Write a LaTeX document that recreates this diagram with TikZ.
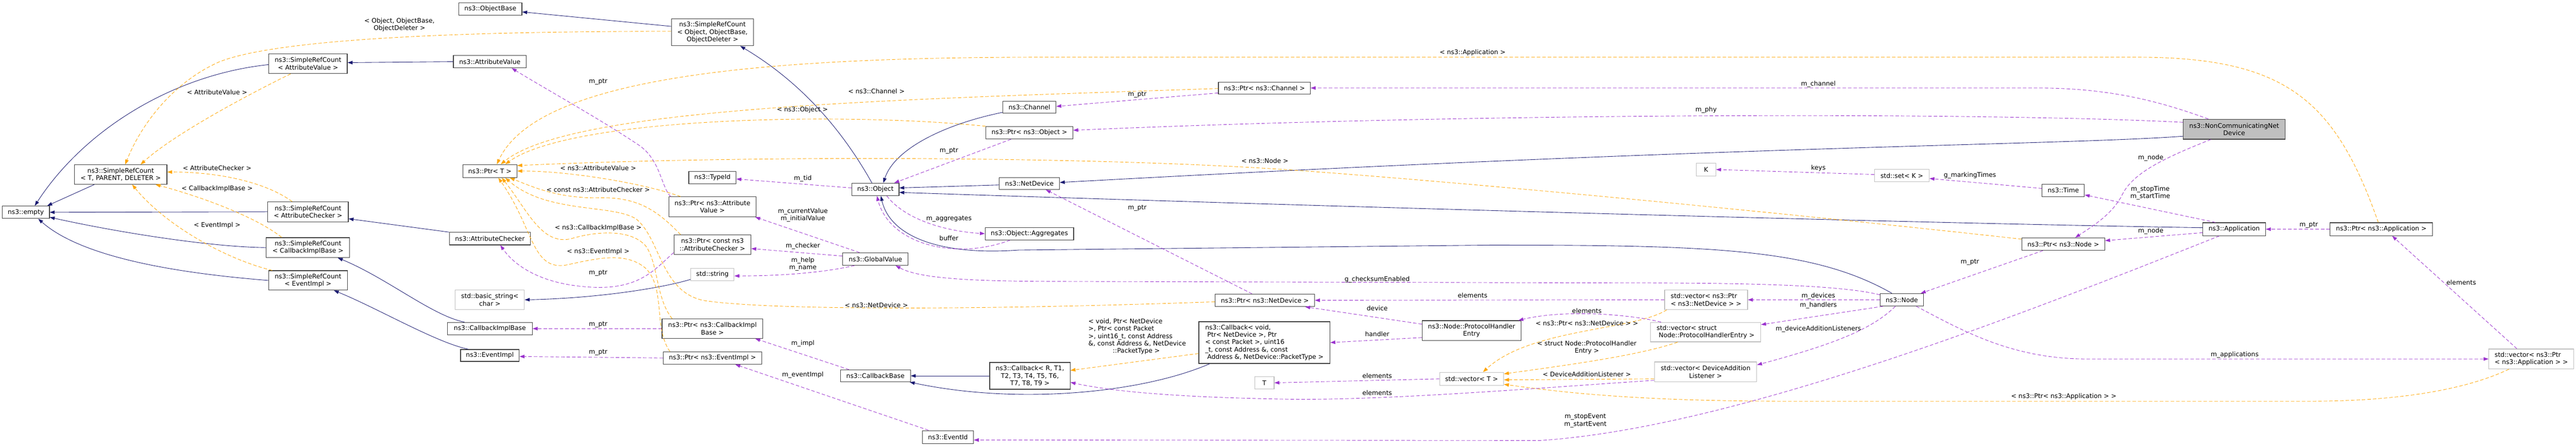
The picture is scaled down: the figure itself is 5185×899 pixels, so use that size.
\documentclass[tikz,border=0pt]{standalone}
\usepackage{fontspec}
\setmainfont{DejaVu Sans}
\usetikzlibrary{arrows.meta,calc}
\definecolor{inhblue}{RGB}{25,25,112}
\definecolor{usepurple}{RGB}{154,50,205}
\definecolor{tplorange}{RGB}{255,165,0}
\definecolor{boxgray}{RGB}{191,191,191}
\definecolor{boxline}{RGB}{64,64,64}
\newcommand{\dgfont}{\fontsize{12.8pt}{14.8pt}\selectfont}

\begin{document}
\begin{tikzpicture}[x=1pt,y=-1pt,
    clsbox/.style={draw=boxline,line width=1.2pt,fill=white,inner sep=0pt,align=center,font=\dgfont},
    extbox/.style={clsbox,draw=boxgray},
    mainbox/.style={clsbox,fill=boxgray},
    lbl/.style={inner sep=0pt,align=center,font=\dgfont},
    inhedge/.style={draw=inhblue,line width=0.9pt,-{Triangle[length=10pt,width=7pt]}},
    usedge/.style={draw=usepurple,line width=0.9pt,dash pattern=on 7pt off 4pt,-{Triangle[length=10pt,width=7pt]}},
    tpledge/.style={usedge,draw=tplorange}]
  \useasboundingbox (0,0) rectangle (5185,899);

  % classes
  \node[clsbox,minimum width=95pt,minimum height=25pt] (empty) at (52,427) {ns3::empty};
  \node[clsbox,minimum width=186pt,minimum height=39pt] (srcT) at (243,351) {ns3::SimpleRefCount\\< T, PARENT, DELETER >};
  \node[clsbox,minimum width=158pt,minimum height=40pt] (srcAV) at (620,128) {ns3::SimpleRefCount\\< AttributeValue >};
  \node[clsbox,minimum width=162pt,minimum height=40pt] (srcAC) at (620,426) {ns3::SimpleRefCount\\< AttributeChecker >};
  \node[clsbox,minimum width=168pt,minimum height=40pt] (srcCB) at (620,498) {ns3::SimpleRefCount\\< CallbackImplBase >};
  \node[clsbox,minimum width=159pt,minimum height=39pt] (srcEI) at (620,564) {ns3::SimpleRefCount\\< EventImpl >};
  \node[clsbox,minimum width=127pt,minimum height=25pt] (objBase) at (987,18) {ns3::ObjectBase};
  \node[clsbox,minimum width=147pt,minimum height=25pt] (attrVal) at (986,124) {ns3::AttributeValue};
  \node[clsbox,minimum width=109pt,minimum height=26pt] (ptrT) at (986,344) {ns3::Ptr< T >};
  \node[clsbox,minimum width=163pt,minimum height=25pt] (attrChk) at (986,480) {ns3::AttributeChecker};
  \node[extbox,minimum width=139pt,minimum height=39pt] (bstring) at (986,603) {std::basic\_string<\\char >};
  \node[clsbox,minimum width=171pt,minimum height=25pt] (cbImpl) at (986,661) {ns3::CallbackImplBase};
  \node[clsbox,minimum width=118pt,minimum height=24pt] (evImpl) at (986,715) {ns3::EventImpl};
  \node[clsbox,minimum width=165pt,minimum height=54pt] (srcObj) at (1434,65) {ns3::SimpleRefCount\\< Object, ObjectBase,\\ObjectDeleter >};
  \node[clsbox,minimum width=95pt,minimum height=25pt] (typeId) at (1434,357) {ns3::TypeId};
  \node[clsbox,minimum width=175pt,minimum height=40pt] (ptrAV) at (1434,416) {ns3::Ptr< ns3::Attribute\\Value >};
  \node[clsbox,minimum width=155pt,minimum height=39pt] (ptrAC) at (1434,492) {ns3::Ptr< const ns3\\::AttributeChecker >};
  \node[extbox,minimum width=87pt,minimum height=25pt] (string) at (1434,552) {std::string};
  \node[clsbox,minimum width=203pt,minimum height=39pt] (ptrCB) at (1434,661) {ns3::Ptr< ns3::CallbackImpl\\Base >};
  \node[clsbox,minimum width=198pt,minimum height=25pt] (ptrEI) at (1434,720) {ns3::Ptr< ns3::EventImpl >};
  \node[clsbox,minimum width=95pt,minimum height=25pt] (object) at (1762,381) {ns3::Object};
  \node[clsbox,minimum width=132pt,minimum height=25pt] (globalVal) at (1762,521) {ns3::GlobalValue};
  \node[clsbox,minimum width=141pt,minimum height=24pt] (cbBase) at (1762,756) {ns3::CallbackBase};
  \node[clsbox,minimum width=103pt,minimum height=26pt] (eventId) at (1908,879) {ns3::EventId};
  \node[clsbox,minimum width=185pt,minimum height=24pt] (ptrCh) at (2545,177) {ns3::Ptr< ns3::Channel >};
  \node[clsbox,minimum width=107pt,minimum height=24pt] (channel) at (2072,216) {ns3::Channel};
  \node[clsbox,minimum width=175pt,minimum height=25pt] (ptrObj) at (2072,267) {ns3::Ptr< ns3::Object >};
  \node[clsbox,minimum width=121pt,minimum height=24pt] (netDev) at (2072,369) {ns3::NetDevice};
  \node[clsbox,minimum width=178pt,minimum height=25pt] (aggr) at (2072,470) {ns3::Object::Aggregates};
  \node[clsbox,minimum width=200pt,minimum height=25pt] (ptrND) at (2546,604) {ns3::Ptr< ns3::NetDevice >};
  \node[clsbox,minimum width=162pt,minimum height=54pt] (cbT) at (2073,756) {ns3::Callback< R, T1,\\ T2, T3, T4, T5, T6,\\ T7, T8, T9 >};
  \node[clsbox,align=left,minimum width=264pt,minimum height=84pt] (cbVoid) at (2545,689) {ns3::Callback< void,\\\ Ptr< NetDevice >, Ptr\\< const Packet >, uint16\\\_t, const Address \&, const\\\ Address \&, NetDevice::PacketType >};
  \node[extbox,minimum width=39pt,minimum height=25pt] (tT) at (2545,770) {T};
  \node[clsbox,minimum width=199pt,minimum height=40pt] (phe) at (2962,665) {ns3::Node::ProtocolHandler\\Entry};
  \node[extbox,minimum width=129pt,minimum height=26pt] (vecT) at (2962,762) {std::vector< T >};
  \node[extbox,minimum width=39pt,minimum height=26pt] (kK) at (3434,341) {K};
  \node[extbox,minimum width=110pt,minimum height=25pt] (setK) at (3828,353) {std::set< K >};
  \node[extbox,align=left,minimum width=167pt,minimum height=39pt] (vecND) at (3434,603) {std::vector< ns3::Ptr\\< ns3::NetDevice > >};
  \node[clsbox,minimum width=87pt,minimum height=25pt] (node) at (3828,603) {ns3::Node};
  \node[extbox,align=left,minimum width=222pt,minimum height=39pt] (vecPHE) at (3433,668) {std::vector< struct\\\ Node::ProtocolHandlerEntry >};
  \node[extbox,minimum width=206pt,minimum height=40pt] (vecDAL) at (3433,748) {std::vector< DeviceAddition\\Listener >};
  \node[mainbox,minimum width=205pt,minimum height=40pt] (ncnd) at (4497,260) {ns3::NonCommunicatingNet\\Device};
  \node[clsbox,minimum width=85pt,minimum height=25pt] (time) at (4153,383) {ns3::Time};
  \node[clsbox,minimum width=126pt,minimum height=26pt] (app) at (4497,461) {ns3::Application};
  \node[clsbox,minimum width=167pt,minimum height=25pt] (ptrNode) at (4153,491) {ns3::Ptr< ns3::Node >};
  \node[clsbox,minimum width=206pt,minimum height=26pt] (ptrApp) at (4793,461) {ns3::Ptr< ns3::Application >};
  \node[extbox,align=left,minimum width=171pt,minimum height=40pt] (vecApp) at (5095,722) {std::vector< ns3::Ptr\\< ns3::Application > >};

  % inheritance
  \draw[inhedge] ($(srcAV.west)+(0,2)$) .. controls (350,150) and (170,260) .. ($(empty.north)+(18,0)$);
  \draw[inhedge] ($(srcT.south)+(-53,0)$) -- ($(empty.north east)+(-5,0)$);
  \draw[inhedge] (srcAC.west) -- (empty.east);
  \draw[inhedge] (srcCB.west) .. controls (430,497) and (250,470) .. ($(empty.east)+(0,10)$);
  \draw[inhedge] (srcEI.west) .. controls (300,545) and (150,505) .. ($(empty.south)+(25,0)$);
  \draw[inhedge] (attrVal.west) -- ($(srcAV.east)+(0,-2)$);
  \draw[inhedge] (attrChk.north west) -- ($(srcAC.east)+(0,14)$);
  \draw[inhedge] ($(cbImpl.north)+(-51,0)$) .. controls (870,635) and (780,560) .. ($(srcCB.south)+(60,0)$);
  \draw[inhedge] ($(evImpl.north)+(-43,0)$) .. controls (880,690) and (760,620) .. ($(srcEI.south)+(52,0)$);
  \draw[inhedge] ($(srcObj.west)+(0,-12)$) -- ($(objBase.east)+(0,6)$);
  \draw[inhedge] ($(object.north)+(-7,0)$) .. controls (1700,270) and (1620,170) .. ($(srcObj.south)+(56,0)$);
  \draw[inhedge] ($(channel.west)+(0,10)$) .. controls (1900,250) and (1800,300) .. ($(object.north)+(16,0)$);
  \draw[inhedge] ($(netDev.west)+(0,3)$) -- ($(object.east)+(0,-3)$);
  \draw[inhedge] ($(ncnd.west)+(0,14)$) .. controls (4150,292) and (3500,292) .. ($(netDev.east)+(0,-2)$);
  \draw[inhedge] ($(app.west)+(0,-3)$) .. controls (3800,448) and (2500,410) .. ($(object.east)+(0,6)$);
  \draw[inhedge] ($(node.north)+(-20,0)$) .. controls (3650,500) and (3450,493) .. (3000,493) -- (2050,503) .. controls (1880,515) and (1790,470) .. ($(object.south)+(11,0)$);
  \draw[inhedge] ($(string.west)+(0,10)$) .. controls (1330,580) and (1200,600) .. (bstring.east);
  \draw[inhedge] (cbT.west) -- (cbBase.east);
  \draw[inhedge] ($(cbVoid.south)+(-110,0)$) .. controls (2300,790) and (2050,815) .. ($(cbBase.south east)+(-2,0)$);

  % template instances
  \draw[tpledge] ($(srcAV.south)+(-35,0)$) .. controls (500,190) and (350,270) .. ($(srcT.north)+(40,0)$);
  \draw[tpledge] ($(srcObj.west)+(0,-2)$) .. controls (900,63) and (550,80) .. (440,125) .. controls (340,170) and (280,260) .. ($(srcT.north)+(9,0)$);
  \draw[tpledge] ($(srcAC.north)+(-32,0)$) .. controls (540,370) and (450,346) .. ($(srcT.east)+(0,-5)$);
  \draw[tpledge] ($(srcCB.north)+(-53,0)$) .. controls (520,440) and (420,400) .. ($(srcT.south)+(70,0)$);
  \draw[tpledge] ($(srcEI.north)+(-72,0)$) .. controls (450,520) and (330,450) .. ($(srcT.south)+(23,0)$);
  \draw[tpledge] ($(ptrApp.north)+(-6,0)$) .. controls (4700,200) and (4600,115) .. (4300,115) -- (2100,115) .. controls (1500,115) and (1080,160) .. ($(ptrT.north)+(14,0)$);
  \draw[tpledge] ($(ptrCh.west)+(0,1)$) .. controls (1800,200) and (1150,215) .. ($(ptrT.north)+(22,0)$);
  \draw[tpledge] (ptrObj.north west) .. controls (1700,225) and (1150,235) .. ($(ptrT.north)+(31,0)$);
  \draw[tpledge] ($(ptrNode.west)+(0,-10)$) .. controls (3700,440) and (3000,370) .. (2600,342) .. controls (2200,314) and (1500,312) .. ($(ptrT.east)+(0,-11)$);
  \draw[tpledge] ($(ptrAV.north west)+(24,0)$) .. controls (1300,370) and (1150,344) .. (ptrT.east);
  \draw[tpledge] ($(ptrAC.north west)+(14,0)$) .. controls (1320,420) and (1280,395) .. (1200,398) .. controls (1120,398) and (1070,375) .. ($(ptrT.south east)+(-15,0)$);
  \draw[tpledge] ($(ptrCB.north west)+(21,0)$) .. controls (1320,600) and (1325,530) .. (1300,495) .. controls (1270,460) and (1200,465) .. (1150,480) .. controls (1090,495) and (1060,420) .. ($(ptrT.south)+(24,0)$);
  \draw[tpledge] ($(ptrEI.north west)+(14,0)$) .. controls (1315,660) and (1340,580) .. (1300,540) .. controls (1260,505) and (1200,520) .. (1140,533) .. controls (1070,545) and (1075,460) .. ($(ptrT.south)+(17,0)$);
  \draw[tpledge] ($(ptrND.west)+(0,3)$) .. controls (2000,623) and (1560,625) .. (1420,605) .. controls (1330,590) and (1330,480) .. (1280,440) .. controls (1230,410) and (1100,430) .. ($(ptrT.south)+(31,0)$);
  \draw[tpledge] ($(vecND.south west)+(5,0)$) .. controls (3290,665) and (3080,660) .. ($(vecT.north)+(23,0)$);
  \draw[tpledge] ($(vecPHE.south)+(-56,0)$) .. controls (3300,715) and (3150,735) .. ($(vecT.east)+(0,-10)$);
  \draw[tpledge] ($(vecDAL.west)+(0,14)$) -- ($(vecT.east)+(0,2)$);
  \draw[tpledge] ($(vecApp.south)+(-45,0)$) .. controls (4950,790) and (4800,807) .. (4650,807) -- (3600,807) .. controls (3300,807) and (3150,790) .. ($(vecT.east)+(0,11)$);
  \draw[tpledge] ($(cbVoid.west)+(0,22)$) -- ($(cbT.east)+(0,-11)$);

  % members
  \draw[usedge] ($(ptrAV.north west)+(4,0)$) .. controls (1330,375) and (1330,320) .. (1283,290) .. controls (1200,235) and (1100,180) .. ($(attrVal.south)+(44,0)$);
  \draw[usedge] ($(ptrAC.west)+(0,16)$) .. controls (1320,540) and (1290,580) .. (1200,578) .. controls (1100,575) and (1040,540) .. ($(attrChk.south)+(21,0)$);
  \draw[usedge] (ptrCB.west) -- (cbImpl.east);
  \draw[usedge] (ptrEI.west) -- ($(evImpl.east)+(0,2)$);
  \draw[usedge] ($(object.west)+(0,-3)$) -- ($(typeId.east)+(0,3)$);
  \draw[usedge] ($(globalVal.north)+(-32,0)$) -- ($(ptrAV.south east)+(-2,0)$);
  \draw[usedge] ($(globalVal.west)+(0,-6)$) -- ($(ptrAC.east)+(0,8)$);
  \draw[usedge] ($(globalVal.south)+(-42,0)$) .. controls (1650,550) and (1560,555) .. ($(string.east)+(0,3)$);
  \draw[usedge] ($(cbBase.north west)+(18,0)$) -- ($(ptrCB.south east)+(-16,0)$);
  \draw[usedge] ($(eventId.north west)+(13,0)$) -- ($(ptrEI.south)+(46,0)$);
  \draw[usedge] ($(ptrObj.south)+(-37,0)$) -- ($(object.north)+(38,0)$);
  \draw[usedge] ($(object.south)+(23,0)$) .. controls (1820,440) and (1900,465) .. (aggr.west);
  \draw[usedge] ($(aggr.south)+(-39,0)$) .. controls (1920,525) and (1790,490) .. ($(object.south)+(3,0)$);
  \draw[usedge] ($(ptrCh.west)+(0,10)$) -- ($(channel.east)+(0,-2)$);
  \draw[usedge] ($(ptrND.north)+(-26,0)$) -- ($(netDev.south)+(33,0)$);
  \draw[usedge] ($(ncnd.north)+(-52,0)$) .. controls (4350,205) and (4250,177) .. (4100,177) -- (ptrCh.east);
  \draw[usedge] ($(ncnd.west)+(0,-14)$) .. controls (4000,226) and (3000,226) .. ($(ptrObj.east)+(0,-5)$);
  \draw[usedge] ($(ncnd.south)+(-47,0)$) .. controls (4350,320) and (4290,350) .. (4270,395) .. controls (4250,430) and (4220,450) .. ($(ptrNode.north)+(24,0)$);
  \draw[usedge] ($(app.north west)+(26,0)$) -- ($(time.east)+(0,9)$);
  \draw[usedge] ($(app.west)+(0,7)$) -- ($(ptrNode.east)+(0,-7)$);
  \draw[usedge] (ptrApp.west) -- (app.east);
  \draw[usedge] ($(time.west)+(0,-4)$) -- ($(setK.east)+(0,6)$);
  \draw[usedge] ($(setK.west)+(0,-2)$) -- (kK.east);
  \draw[usedge] ($(ptrNode.south)+(-41,0)$) -- ($(node.north east)+(-6,0)$);
  \draw[usedge] (node.west) -- (vecND.east);
  \draw[usedge] ($(node.south west)+(6,0)$) -- ($(vecPHE.east)+(0,-15)$);
  \draw[usedge] ($(node.south)+(-13,0)$) .. controls (3770,660) and (3700,690) .. ($(vecDAL.east)+(0,-14)$);
  \draw[usedge] ($(node.south east)+(-15,0)$) .. controls (3950,665) and (4050,722) .. (4200,722) -- (vecApp.west);
  \draw[usedge] ($(node.west)+(0,-10)$) .. controls (3700,572) and (3500,569) .. (3250,569) -- (2100,566) .. controls (1950,565) and (1850,560) .. ($(globalVal.south east)+(-26,0)$);
  \draw[usedge] (vecND.west) -- (ptrND.east);
  \draw[usedge] ($(phe.west)+(0,-13)$) -- ($(ptrND.south)+(81,0)$);
  \draw[usedge] ($(phe.west)+(0,14)$) -- (cbVoid.east);
  \draw[usedge] ($(vecPHE.north west)+(22,0)$) .. controls (3280,632) and (3150,622) .. ($(phe.north east)+(-6,0)$);
  \draw[usedge] (vecT.west) -- (tT.east);
  \draw[usedge] ($(vecDAL.west)+(0,17)$) .. controls (3100,780) and (2800,805) .. (2600,803) .. controls (2400,800) and (2250,790) .. ($(cbT.east)+(0,13)$);
  \draw[usedge] ($(app.south)+(-30,0)$) .. controls (4100,620) and (3500,860) .. (3100,886) -- ($(eventId.east)+(0,6)$);
  \draw[usedge] ($(vecApp.north)+(-29,0)$) -- ($(ptrApp.south)+(22,0)$);

  % edge labels
  \node[lbl] (lAV) at (437,186) {< AttributeValue >};
  \node[lbl] (lAC) at (437,338) {< AttributeChecker >};
  \node[lbl] (lCB) at (437,380) {< CallbackImplBase >};
  \node[lbl] (lEI) at (437,453) {< EventImpl >};
  \node[lbl] (lObj) at (804,50) {< Object, ObjectBase,\\ObjectDeleter >};
  \node[lbl] (lPtrAV) at (1204,165) {m\_ptr};
  \node[lbl] (lTAV) at (1204,338) {< ns3::AttributeValue >};
  \node[lbl] (lTAC) at (1204,382) {< const ns3::AttributeChecker >};
  \node[lbl] (lTCB) at (1204,458) {< ns3::CallbackImplBase >};
  \node[lbl] (lTEI) at (1204,506) {< ns3::EventImpl >};
  \node[lbl] (lPtrAC) at (1204,549) {m\_ptr};
  \node[lbl] (lPtrCB) at (1204,653) {m\_ptr};
  \node[lbl] (lPtrEI) at (1204,709) {m\_ptr};
  \node[lbl] (lTCh) at (1764,183) {< ns3::Channel >};
  \node[lbl] (lTObj) at (1615,221) {< ns3::Object >};
  \node[lbl] (lTid) at (1616,359) {m\_tid};
  \node[lbl] (lCur) at (1616,433) {m\_currentValue\\m\_initialValue};
  \node[lbl] (lChk) at (1616,495) {m\_checker};
  \node[lbl] (lHelp) at (1616,531) {m\_help\\m\_name};
  \node[lbl] (lTND) at (1764,614) {< ns3::NetDevice >};
  \node[lbl] (lImpl) at (1616,691) {m\_impl};
  \node[lbl] (lEvImpl) at (1616,754) {m\_eventImpl};
  \node[lbl] (lPtrObj) at (1910,303) {m\_ptr};
  \node[lbl] (lAggr) at (1910,440) {m\_aggregates};
  \node[lbl] (lBuf) at (1910,479) {buffer};
  \node[lbl] (lPtrCh) at (2289,190) {m\_ptr};
  \node[lbl] (lTNode) at (2546,323) {< ns3::Node >};
  \node[lbl] (lPtrND) at (2289,419) {m\_ptr};
  \node[lbl,align=left] (lTCb) at (2289,677) {< void, Ptr< NetDevice\\>, Ptr< const Packet\\>, uint16\_t, const Address\\\&, const Address \&, NetDevice\\\hspace*{49pt}::PacketType >};
  \node[lbl] (lTApp) at (2964,106) {< ns3::Application >};
  \node[lbl] (lChecksum) at (2772,562) {g\_checksumEnabled};
  \node[lbl] (lElND) at (2964,594) {elements};
  \node[lbl] (lDev) at (2772,620) {device};
  \node[lbl] (lHandler) at (2772,672) {handler};
  \node[lbl] (lElPHE) at (3194,625) {elements};
  \node[lbl] (lTVecND) at (3194,650) {< ns3::Ptr< ns3::NetDevice > >};
  \node[lbl] (lTVecPHE) at (3194,699) {< struct Node::ProtocolHandler\\Entry >};
  \node[lbl] (lTVecDAL) at (3194,753) {< DeviceAdditionListener >};
  \node[lbl] (lElT) at (2772,756) {elements};
  \node[lbl] (lElDAL) at (2772,790) {elements};
  \node[lbl] (lEvent) at (3191,846) {m\_stopEvent\\m\_startEvent};
  \node[lbl] (lChannel) at (3660,169) {m\_channel};
  \node[lbl] (lPhy) at (3434,221) {m\_phy};
  \node[lbl] (lKeys) at (3660,338) {keys};
  \node[lbl] (lDevices) at (3660,595) {m\_devices};
  \node[lbl] (lHandlers) at (3660,614) {m\_handlers};
  \node[lbl] (lListeners) at (3660,662) {m\_deviceAdditionListeners};
  \node[lbl] (lNcNode) at (4329,318) {m\_node};
  \node[lbl] (lMarking) at (3965,353) {g\_markingTimes};
  \node[lbl] (lTime) at (4328,388) {m\_stopTime\\m\_startTime};
  \node[lbl] (lAppNode) at (4329,465) {m\_node};
  \node[lbl] (lPtrNode) at (3965,527) {m\_ptr};
  \node[lbl] (lApps) at (4498,714) {m\_applications};
  \node[lbl] (lTVecApp) at (4154,798) {< ns3::Ptr< ns3::Application > >};
  \node[lbl] (lPtrApp) at (4647,453) {m\_ptr};
  \node[lbl] (lElApp) at (4954,568) {elements};
\end{tikzpicture}
\end{document}
